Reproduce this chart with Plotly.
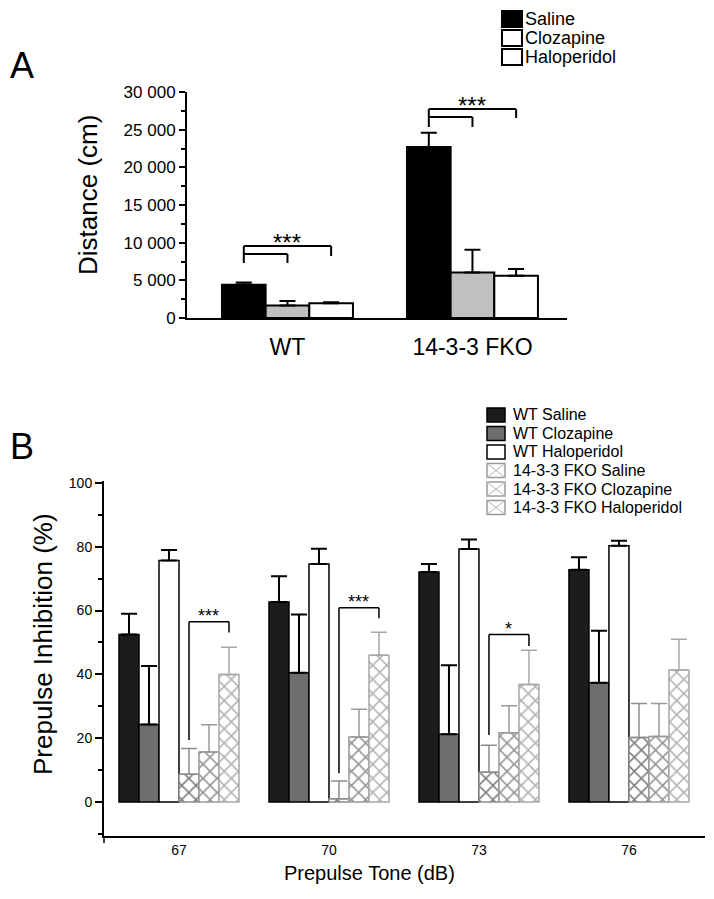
import plotly.graph_objects as go

# ---------------- Panel A data ----------------
groups_a = ["WT", "14-3-3 FKO"]
treatments_a = ["Saline", "Clozapine", "Haloperidol"]
saline_a = [4400, 22700]
saline_a_err = [300, 1900]
cloz_a = [1650, 6050]
cloz_a_err = [600, 3000]
halo_a = [1950, 5600]
halo_a_err = [150, 900]
yticks_a = [0, 5000, 10000, 15000, 20000, 25000, 30000]
yticktext_a = ["0", "5 000", "10 000", "15 000", "20 000", "25 000", "30 000"]
# significance brackets: outer line, inner line, left leg end, inner right leg end, outer right leg end
sig_a_outer = [9560, 27740]
sig_a_inner = [8500, 26680]
sig_a_left_end = [7300, 25350]
sig_a_inner_end = [7300, 25350]
sig_a_outer_end = [8230, 26550]
sig_a_label = ["***", "***"]

# ---------------- Panel B data ----------------
tones = ["67", "70", "73", "76"]
wt_saline = [52.5, 62.7, 72.1, 72.8]
wt_saline_err = [6.5, 8.1, 2.5, 3.9]
wt_cloz = [24.3, 40.5, 21.2, 37.4]
wt_cloz_err = [18.3, 18.3, 21.7, 16.3]
wt_halo = [75.7, 74.6, 79.3, 80.3]
wt_halo_err = [3.3, 4.8, 3.0, 1.6]
fko_saline = [8.7, 1.0, 9.3, 20.2]
fko_saline_err = [8.1, 5.6, 8.5, 10.7]
fko_cloz = [15.7, 20.4, 21.7, 20.5]
fko_cloz_err = [8.5, 8.7, 8.5, 10.4]
fko_halo = [40.0, 46.0, 36.8, 41.4]
fko_halo_err = [8.5, 7.2, 10.8, 9.6]
yticks_b = [0, 20, 40, 60, 80, 100]
# significance brackets (tone index, top, left leg end, right leg end, label)
sig_b_tone = [0, 1, 2]
sig_b_top = [56.5, 60.9, 52.5]
sig_b_left_end = [19.4, 9.0, 21.0]
sig_b_right_end = [53.1, 57.6, 48.9]
sig_b_label = ["***", "***", "*"]

FONT = "Liberation Sans, Arial, Helvetica, sans-serif"
W, H = 714, 899


def px(x):
    return x / W


def py(y):
    return 1 - y / H


fig = go.Figure()

# ---------- Panel A bars ----------
w_a = 0.236
off_a = [-0.354, -0.118, 0.118]
a_series = [
    (saline_a, saline_a_err, "#000000"),
    (cloz_a, cloz_a_err, "#c0c0c0"),
    (halo_a, halo_a_err, "#ffffff"),
]
for i, (vals, errs, col) in enumerate(a_series):
    fig.add_trace(go.Bar(
        x=groups_a, y=vals, name=treatments_a[i], showlegend=False,
        width=w_a, offset=off_a[i],
        marker=dict(color=col, line=dict(color="black", width=2)),
        error_y=dict(type="data", symmetric=False, array=errs,
                     arrayminus=[0] * len(errs), color="black",
                     thickness=2, width=8),
        xaxis="x", yaxis="y",
    ))

# ---------- Panel B bars ----------
w_b = 0.8 / 6
names_b = ["WT Saline", "WT Clozapine", "WT Haloperidol",
           "14-3-3 FKO Saline", "14-3-3 FKO Clozapine", "14-3-3 FKO Haloperidol"]
b_series = [
    (wt_saline, wt_saline_err),
    (wt_cloz, wt_cloz_err),
    (wt_halo, wt_halo_err),
    (fko_saline, fko_saline_err),
    (fko_cloz, fko_cloz_err),
    (fko_halo, fko_halo_err),
]
wt_fill = ["#1c1c1c", "#6e6e6e", "#ffffff"]
fko_hatch = ["#000000", "#2e2e2e", "#6a6a6a"]
fko_line = ["#8c8c8c", "#999999", "#a8a8a8"]
for i, (vals, errs) in enumerate(b_series):
    if i < 3:
        marker = dict(color=wt_fill[i], line=dict(color="black", width=1.5))
        ecol = "black"
        eth = 2
    else:
        j = i - 3
        marker = dict(color="white", line=dict(color=fko_line[j], width=1.5),
                      pattern=dict(shape="x", fgcolor=fko_hatch[j], bgcolor="white",
                                   size=10, solidity=0.3))
        ecol = fko_line[j]
        eth = 1.5
    fig.add_trace(go.Bar(
        x=tones, y=vals, name=names_b[i], showlegend=False,
        width=w_b, offset=-0.4 + i * w_b,
        marker=marker,
        error_y=dict(type="data", symmetric=False, array=errs,
                     arrayminus=[0] * len(errs), color=ecol,
                     thickness=eth, width=8),
        xaxis="x2", yaxis="y2",
    ))

shapes = []
annotations = []

# ---------- Panel A significance brackets ----------
for g in range(len(groups_a)):
    c_sal = g + off_a[0] + w_a / 2
    c_clo = g + off_a[1] + w_a / 2
    c_hal = g + off_a[2] + w_a / 2
    ln = dict(color="black", width=2)
    for (x0, y0, x1, y1) in [
        (c_sal, sig_a_left_end[g], c_sal, sig_a_outer[g]),
        (c_sal, sig_a_outer[g], c_hal, sig_a_outer[g]),
        (c_hal, sig_a_outer[g], c_hal, sig_a_outer_end[g]),
        (c_sal, sig_a_inner[g], c_clo, sig_a_inner[g]),
        (c_clo, sig_a_inner[g], c_clo, sig_a_inner_end[g]),
    ]:
        shapes.append(dict(type="line", xref="x", yref="y", x0=x0, y0=y0,
                           x1=x1, y1=y1, line=ln))
    annotations.append(dict(x=(c_sal + c_hal) / 2, y=sig_a_outer[g], xref="x", yref="y",
                            text=sig_a_label[g], showarrow=False, xanchor="center",
                            yanchor="bottom", yshift=-12,
                            font=dict(family=FONT, size=24, color="black")))

# ---------- Panel B significance brackets ----------
for k in range(len(sig_b_tone)):
    t = sig_b_tone[k]
    cl = t - 0.4 + 3 * w_b + w_b / 2
    cr = t - 0.4 + 5 * w_b + w_b / 2
    ln = dict(color="black", width=1.5)
    for (x0, y0, x1, y1) in [
        (cl, sig_b_left_end[k], cl, sig_b_top[k]),
        (cl, sig_b_top[k], cr, sig_b_top[k]),
        (cr, sig_b_top[k], cr, sig_b_right_end[k]),
    ]:
        shapes.append(dict(type="line", xref="x2", yref="y2", x0=x0, y0=y0,
                           x1=x1, y1=y1, line=ln))
    annotations.append(dict(x=(cl + cr) / 2, y=sig_b_top[k], xref="x2", yref="y2",
                            text=sig_b_label[k], showarrow=False, xanchor="center",
                            yanchor="bottom", yshift=-6,
                            font=dict(family=FONT, size=18, color="black")))

# left-end tick on B x-axis
shapes.append(dict(type="line", xref="paper", yref="paper", x0=px(104), x1=px(104),
                   y0=py(836), y1=py(843), line=dict(color="black", width=1.5)))

# ---------- Panel A legend ----------
leg_a_fill = ["#000000", "#ffffff", "#ffffff"]
for i, name in enumerate(treatments_a):
    yc = 19 + i * 19
    shapes.append(dict(type="rect", xref="paper", yref="paper",
                       x0=px(502), x1=px(522), y0=py(yc + 8), y1=py(yc - 8),
                       fillcolor=leg_a_fill[i], line=dict(color="black", width=2)))
    annotations.append(dict(x=px(523), y=py(yc), xref="paper", yref="paper",
                            text=name, showarrow=False, xanchor="left", yanchor="middle",
                            font=dict(family=FONT, size=18, color="black")))

# ---------- Panel B legend ----------
leg_b_fill = ["#1c1c1c", "#6e6e6e", "#ffffff"]
for i, name in enumerate(names_b):
    yc = 415 + i * 18.5
    x0, x1, y0, y1 = 487, 505, yc - 7, yc + 7
    if i < 3:
        shapes.append(dict(type="rect", xref="paper", yref="paper",
                           x0=px(x0), x1=px(x1), y0=py(y1), y1=py(y0),
                           fillcolor=leg_b_fill[i], line=dict(color="black", width=1.5)))
    else:
        shapes.append(dict(type="rect", xref="paper", yref="paper",
                           x0=px(x0), x1=px(x1), y0=py(y1), y1=py(y0),
                           fillcolor="white", line=dict(color="#9a9a9a", width=1.5)))
        for (a, b, c, d) in [(x0, y0, x1, y1), (x0, y1, x1, y0)]:
            shapes.append(dict(type="line", xref="paper", yref="paper",
                               x0=px(a), y0=py(b), x1=px(c), y1=py(d),
                               line=dict(color="#b4b4b4", width=1)))
    annotations.append(dict(x=px(511), y=py(yc), xref="paper", yref="paper",
                            text=name, showarrow=False, xanchor="left", yanchor="middle",
                            font=dict(family=FONT, size=16, color="black")))


# ---------- Panel labels and titles ----------
def label(x, y, text, size, angle=0):
    return dict(x=px(x), y=py(y), xref="paper", yref="paper", text=text,
                showarrow=False, xanchor="center", yanchor="middle", textangle=angle,
                font=dict(family=FONT, size=size, color="black"))


annotations += [
    label(21.5, 65.5, "A", 36),
    label(21.5, 446.5, "B", 36),
    label(88, 195, "Distance (cm)", 26, -90),
    label(42.5, 644.5, "Prepulse Inhibition (%)", 26, -90),
    label(369, 873, "Prepulse Tone (dB)", 20),
]

fig.update_layout(
    width=W, height=H,
    margin=dict(l=0, r=0, t=0, b=0, autoexpand=False),
    paper_bgcolor="white", plot_bgcolor="white",
    barmode="overlay",
    showlegend=False,
    font=dict(family=FONT, color="black"),
    xaxis=dict(domain=[px(187), px(567)], anchor="y", type="category", automargin=False,
               range=[-0.543, 1.511], showline=True, linecolor="black", linewidth=2,
               ticks="", showgrid=False, zeroline=False, ticklabelstandoff=7,
               tickfont=dict(family=FONT, size=23, color="black")),
    yaxis=dict(domain=[py(318), py(92)], anchor="x", range=[0, 30000], automargin=False,
               showline=True, linecolor="black", linewidth=2, showgrid=False,
               zeroline=False, ticks="outside", ticklen=6, tickwidth=2,
               tickcolor="black", tickvals=yticks_a, ticktext=yticktext_a,
               tickfont=dict(family=FONT, size=17, color="black"),
               minor=dict(ticks="outside", ticklen=4, tickwidth=1.5,
                          tickcolor="black", dtick=2500, showgrid=False)),
    xaxis2=dict(domain=[px(104), px(705)], anchor="y2", type="category", automargin=False,
                range=[-0.5, 3.507], showline=True, linecolor="black", linewidth=2,
                ticks="", showgrid=False, zeroline=False,
                tickfont=dict(family=FONT, size=14, color="black")),
    yaxis2=dict(domain=[py(836), py(481.4)], anchor="x2", range=[-10.66, 100.5],
                automargin=False,
                showline=True, linecolor="black", linewidth=2, showgrid=False,
                zeroline=False, ticks="outside", ticklen=7, tickwidth=1.5,
                tickcolor="black", tickvals=yticks_b,
                tickfont=dict(family=FONT, size=14, color="black"),
                minor=dict(ticks="outside", ticklen=4, tickwidth=1.5,
                           tickcolor="black", dtick=10, showgrid=False)),
    shapes=shapes,
    annotations=annotations,
)

fig.write_html("out.html", config={"displayModeBar": False},
               post_script="document.body.style.margin='0';document.body.style.overflow='hidden';")
